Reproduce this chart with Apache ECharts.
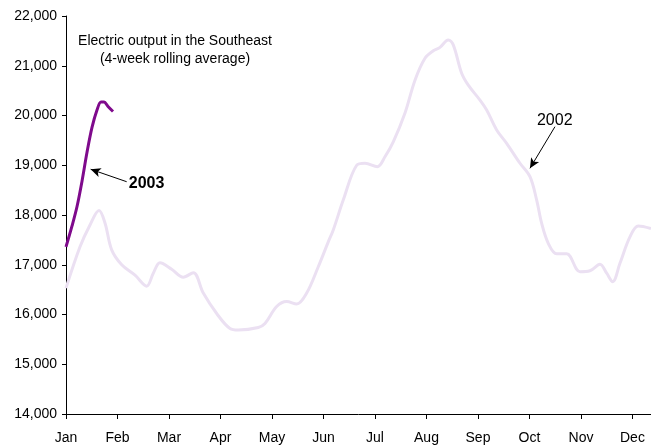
<!DOCTYPE html>
<html>
<head>
<meta charset="utf-8">
<script src="https://cdn.jsdelivr.net/npm/echarts@6/dist/echarts.min.js"></script>
<style>
  html, body { margin: 0; padding: 0; background: #fff; }
  #chart { width: 651px; height: 445px; }
</style>
</head>
<body>
<div id="chart"></div>
<script>
// Month labels along the x axis (one tick per month, value = month index)
const monthLabels = ['Jan', 'Feb', 'Mar', 'Apr', 'May', 'Jun', 'Jul', 'Aug', 'Sep', 'Oct', 'Nov', 'Dec'];
const monthTicks = [0, 1, 2, 3, 4, 5, 6, 7, 8, 9, 10, 11];
// Visible x range ends part way through December
const xRange = { min: 0, max: 11.36 };

// 2002: 4-week rolling average of electric output, position in months since Jan 1
const months2002 = [0.000, 0.272, 0.466, 0.641, 0.757, 0.887, 1.082, 1.340, 1.567, 1.695, 1.825,
  2.052, 2.278, 2.472, 2.666, 2.926, 3.184, 3.346, 3.734, 3.864, 4.091, 4.285, 4.480, 4.674,
  4.899, 5.093, 5.190, 5.384, 5.645, 5.806, 6.045, 6.194, 6.355, 6.583, 6.777, 6.971, 7.132,
  7.262, 7.423, 7.520, 7.683, 7.812, 8.039, 8.169, 8.363, 8.557, 8.816, 9.010, 9.140, 9.237,
  9.365, 9.528, 9.722, 9.981, 10.175, 10.369, 10.499, 10.616, 10.757, 10.951, 11.113, 11.359];
const output2002 = [16530, 17360, 17800, 18090, 17840, 17300, 17000, 16790, 16570, 16830, 17040,
  16910, 16750, 16840, 16430, 16020, 15720, 15690, 15740, 15820, 16160, 16260, 16210, 16430,
  16960, 17460, 17700, 18300, 19000, 19040, 18970, 19170, 19470, 20050, 20710, 21150, 21300,
  21370, 21520, 21420, 20850, 20610, 20310, 20110, 19710, 19440, 19040, 18770, 18300, 17830,
  17430, 17220, 17220, 16860, 16880, 17010, 16830, 16660, 17030, 17560, 17780, 17730];

// 2003: year to date
const months2003 = [0.000, 0.117, 0.214, 0.311, 0.408, 0.505, 0.602, 0.680, 0.738, 0.816, 0.913];
const output2003 = [17360, 17780, 18170, 18680, 19260, 19760, 20110, 20270, 20270, 20180, 20080];

// Y axis ticks
const yTicks = { min: 14000, max: 22000, step: 1000 };

// Annotation arrows: [start, tip] in data units, and label anchors
const arrow2003 = [[1.178, 18669], [0.479, 18919]];
const label2003 = [1.22, 18637];
const arrow2002 = [[9.495, 19775], [9.010, 18939]];
const label2002 = [9.491, 19896];

const zip = (xs, ys) => xs.map((x, i) => [x, ys[i]]);

const chart = echarts.init(document.getElementById('chart'), null, { renderer: 'canvas' });

const textFont = 'Liberation Sans, Arial, Helvetica, sans-serif';

chart.setOption({
  animation: false,
  backgroundColor: '#ffffff',
  title: {
    text: 'Electric output in the Southeast\n(4-week rolling average)',
    left: 170,
    top: 27,
    textAlign: 'center',
    textStyle: {
      fontFamily: textFont,
      fontSize: 14,
      fontWeight: 'normal',
      color: '#000',
      lineHeight: 18,
      align: 'center'
    }
  },
  grid: {
    left: 66,
    right: 0,
    top: 16,
    bottom: 31,
    containLabel: false
  },
  xAxis: {
    type: 'value',
    min: xRange.min,
    max: xRange.max,
    axisLine: { show: true, onZero: false, lineStyle: { color: '#000', width: 1 } },
    axisTick: { show: true, length: 5, customValues: monthTicks, lineStyle: { color: '#000', width: 1 } },
    splitLine: { show: false },
    axisLabel: {
      margin: 17,
      color: '#000',
      fontFamily: textFont,
      fontSize: 14,
      customValues: monthTicks,
      formatter: v => monthLabels[Math.round(v)] || ''
    }
  },
  yAxis: {
    type: 'value',
    min: yTicks.min,
    max: yTicks.max,
    interval: yTicks.step,
    axisLine: { show: true, lineStyle: { color: '#000', width: 1 } },
    axisTick: { show: true, length: 4, lineStyle: { color: '#000', width: 1 } },
    splitLine: { show: false },
    axisLabel: {
      margin: 9,
      color: '#000',
      fontFamily: textFont,
      fontSize: 14,
      formatter: v => v.toLocaleString('en-US')
    }
  },
  series: [
    {
      name: '2002',
      type: 'line',
      data: zip(months2002, output2002),
      smooth: 0.35,
      showSymbol: false,
      lineStyle: { color: '#ebe0f2', width: 3 },
      z: 2,
      markLine: {
        silent: true,
        symbol: ['none', 'arrow'],
        symbolSize: [7, 10],
        lineStyle: { color: '#000', width: 1, type: 'solid' },
        itemStyle: { color: '#000' },
        label: { show: false },
        data: [[{ coord: arrow2002[0] }, { coord: arrow2002[1] }]]
      },
      markPoint: {
        silent: true,
        symbol: 'circle',
        symbolSize: 0,
        label: {
          show: true,
          position: 'inside',
          formatter: '2002',
          color: '#000',
          fontFamily: textFont,
          fontSize: 16
        },
        data: [{ coord: label2002 }]
      }
    },
    {
      name: '2003',
      type: 'line',
      data: zip(months2003, output2003),
      smooth: 0.35,
      showSymbol: false,
      lineStyle: { color: '#7f0a8c', width: 3 },
      z: 3,
      markLine: {
        silent: true,
        symbol: ['none', 'arrow'],
        symbolSize: [7, 10],
        lineStyle: { color: '#000', width: 1, type: 'solid' },
        itemStyle: { color: '#000' },
        label: { show: false },
        data: [[{ coord: arrow2003[0] }, { coord: arrow2003[1] }]]
      },
      markPoint: {
        silent: true,
        symbol: 'circle',
        symbolSize: 0,
        label: {
          show: true,
          position: 'inside',
          formatter: '2003',
          color: '#000',
          fontFamily: textFont,
          fontSize: 16,
          fontWeight: 'bold',
          align: 'left'
        },
        data: [{ coord: label2003 }]
      }
    }
  ]
});
</script>
</body>
</html>
